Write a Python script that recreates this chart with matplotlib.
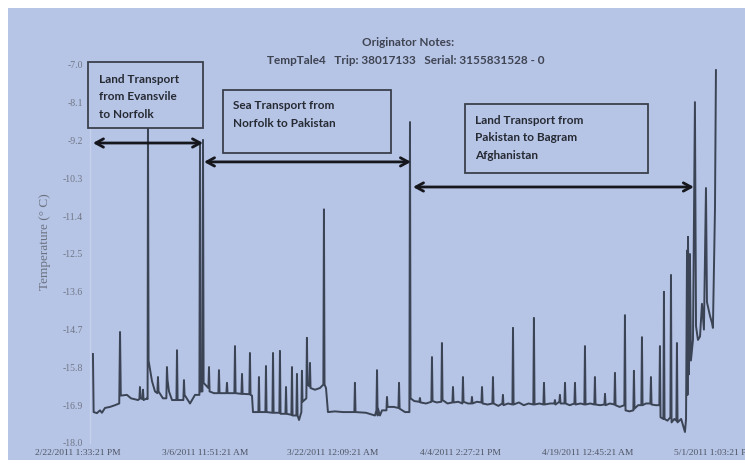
import matplotlib
matplotlib.use("Agg")
import matplotlib.pyplot as plt
from matplotlib.patches import Rectangle

# ---------------- data ----------------
# x: days after the first axis label time, y: temperature (deg C)
days = [
    1.53, 1.60, 1.94, 2.25, 2.45, 2.76, 3.27, 3.78, 4.22, 4.30, 4.38, 5.01, 5.42, 6.14,
    6.28, 6.34, 6.40, 6.59, 6.65, 6.71, 7.06, 7.12, 7.16, 7.22, 7.57, 7.88, 8.12, 8.18,
    8.24, 8.69, 9.04, 9.10, 9.16, 9.31, 9.62, 10.07, 10.13, 10.19, 10.78, 10.84, 10.90,
    11.46, 11.97, 12.42, 12.48, 12.54, 12.73, 12.79, 12.85,
    13.34, 13.40, 13.46, 13.91, 14.36, 14.42, 14.48, 15.18, 15.24, 15.30, 16.00, 16.06,
    16.12, 16.72, 16.78, 16.84, 17.53, 17.59, 17.65, 17.80, 17.90, 18.45, 18.51, 18.57,
    19.17, 19.23, 19.29, 19.89, 19.95, 20.01, 20.60, 20.66, 20.72, 21.22, 21.28, 21.34,
    21.83, 21.89, 21.95, 22.34, 22.40, 22.46, 22.61, 22.85, 22.91, 22.97, 23.36, 23.42,
    23.48, 23.67, 23.73, 23.79, 24.24, 24.75, 25.10, 25.16, 25.22, 25.37, 25.57,
    26.29, 27.11, 28.27, 28.33, 28.39, 29.46, 30.38, 30.53, 30.59, 30.65, 30.69, 30.89,
    31.10, 31.55, 31.61, 31.67, 32.30, 32.78, 32.84, 32.90, 33.45, 33.90, 33.96, 34.02,
    34.40, 34.92, 34.98, 35.04, 35.60, 36.15, 36.21, 36.27, 36.70, 37.17, 37.23, 37.29,
    37.80, 38.30, 38.36, 38.42, 38.90, 39.32, 39.38, 39.44, 39.90, 40.24, 40.30, 40.36,
    40.80, 41.27, 41.33, 41.39, 41.90, 42.39, 42.45, 42.51, 43.00, 43.41, 43.47, 43.53,
    44.00, 44.44, 44.50, 44.56, 45.10, 45.60, 46.10, 46.58, 46.64, 46.70, 47.20, 47.61,
    47.67, 47.73, 48.30, 48.73, 48.79, 48.85, 49.24, 49.30, 49.36, 49.76, 49.82, 49.88,
    50.30, 50.78, 50.84, 50.90, 51.40, 51.80, 51.86, 51.92, 52.40, 52.82, 52.88, 52.94,
    53.40, 53.85, 53.91, 53.97, 54.40, 54.87, 54.93, 54.99, 55.40, 55.89, 55.95, 56.01,
    56.40, 56.81, 56.87, 56.93, 57.30, 57.63, 57.69, 57.75, 58.10, 58.55, 58.61, 58.67,
    59.10, 59.47, 59.53, 59.59, 59.88, 59.94, 60.00, 60.30, 60.60, 60.66, 60.72, 61.00,
    61.21, 61.27, 61.33, 61.70, 62.09, 62.20,
    62.30, 62.35, 62.40, 62.50, 62.60, 62.70, 62.91, 63.11, 63.22, 63.42, 63.63, 63.83,
    64.03, 64.24, 64.34, 64.65, 64.85, 64.95, 65.16, 65.26,
]
temps = [
    -15.41, -17.10, -17.13, -17.05, -17.12, -16.98, -16.95, -16.90, -16.85, -14.77, -16.62, -16.60, -16.70, -16.75,
    -16.72, -16.37, -16.70, -16.72, -16.45, -16.75, -16.70, -16.72, -8.50, -15.60, -16.20, -16.50, -16.55, -16.08,
    -16.50, -16.70, -16.70, -15.79, -16.17, -16.50, -16.75, -16.75, -15.30, -16.75, -16.75, -16.17, -16.60,
    -16.85, -16.60, -16.60, -9.30, -16.50, -16.50, -9.18, -16.25,
    -16.40, -15.79, -16.50, -16.55, -16.55, -15.88, -16.55, -16.55, -16.25, -16.55, -16.55, -15.18,
    -16.55, -16.57, -15.99, -16.57, -16.58, -15.38, -16.60, -16.62, -17.10, -17.10, -16.08, -17.10,
    -17.10, -15.76, -17.10, -17.12, -15.38, -17.12, -17.12, -15.32, -17.15, -17.15, -16.37, -17.15,
    -17.18, -15.79, -17.20, -17.20, -15.99, -17.20, -17.33, -17.10, -15.90, -16.80, -16.70, -14.94,
    -16.30, -16.35, -15.67, -16.40, -16.45, -16.40, -16.30, -11.20, -16.30, -16.40, -17.10,
    -17.08, -17.10, -17.10, -16.25, -17.10, -17.12, -17.20, -17.05, -15.88, -17.20, -17.00, -17.20,
    -17.05, -17.05, -16.66, -16.95, -16.95, -16.98, -16.25, -17.00, -17.10, -17.10, -8.66, -16.70,
    -16.78, -16.80, -16.69, -16.82, -16.85, -16.80, -15.50, -16.78, -16.82, -16.80, -15.09, -16.75,
    -16.85, -16.82, -16.37, -16.82, -16.80, -16.85, -16.08, -16.80, -16.85, -16.85, -16.66, -16.85,
    -16.80, -16.82, -16.37, -16.85, -16.88, -16.85, -16.08, -16.85, -16.92, -16.85, -16.60, -16.90,
    -16.85, -16.88, -14.65, -16.88, -16.82, -16.90, -16.85, -16.88, -14.36, -16.88, -16.85, -16.88,
    -16.25, -16.88, -16.85, -16.85, -16.75, -16.88, -16.80, -16.60, -16.85, -16.85, -16.25, -16.85,
    -16.90, -16.85, -16.25, -16.88, -16.85, -16.88, -15.18, -16.88, -16.85, -16.88, -16.08, -16.88,
    -16.90, -16.88, -16.57, -16.90, -16.85, -16.88, -15.96, -16.90, -16.95, -16.90, -14.28, -17.05,
    -17.08, -17.05, -15.90, -17.00, -16.90, -16.90, -14.92, -16.90, -16.85, -16.85, -16.08, -16.88,
    -16.90, -16.90, -15.18, -17.25, -17.30, -13.60, -17.30, -17.35, -17.25, -13.11, -17.40, -17.30,
    -17.35, -15.09, -17.40, -17.30, -17.68, -17.30,
    -12.40, -16.60, -12.00, -16.00, -12.50, -15.60, -15.00, -8.08, -14.60, -15.00, -14.90, -13.95,
    -14.70, -10.58, -13.90, -14.30, -14.50, -14.65, -11.20, -7.15,
]

y_ticks = [-18.0, -16.9, -15.8, -14.7, -13.6, -12.5, -11.4, -10.3, -9.2, -8.1, -7.0]
y_tick_labels = ["-18.0", "-16.9", "-15.8", "-14.7", "-13.6", "-12.5", "-11.4",
                 "-10.3", "-9.2", "-8.1", "-7.0"]
x_ticks = [0.0, 13.03, 26.06, 39.09, 52.12, 65.15]
x_tick_labels = ["2/22/2011 1:33:21 PM", "3/6/2011 11:51:21 AM", "3/22/2011 12:09:21 AM",
                 "4/4/2011 2:27:21 PM", "4/19/2011 12:45:21 AM", "5/1/2011 1:03:21 PM"]

title_1 = "Originator Notes:"
title_2 = "TempTale4   Trip: 38017133   Serial: 3155831528 - 0"
y_label = "Temperature (° C)"

box_texts = ["Land Transport\nfrom Evansvile\nto Norfolk",
             "Sea Transport from\nNorfolk to Pakistan",
             "Land Transport from\nPakistan to Bagram\nAfghanistan"]

# ---------------- styling ----------------
BG = "#b6c4e6"
LINE = "#3b4454"
W, H = 745, 465

fig = plt.figure(figsize=(W / 100, H / 100), dpi=100, facecolor="white")
fig.patches.append(Rectangle((8 / W, 5 / H), 1 - 8 / W, 1 - 13 / H,
                             transform=fig.transFigure, facecolor=BG,
                             edgecolor="none", zorder=-10))

ax_left, ax_right = 60, 740
ax_top, ax_bottom = 65, 443
ax = fig.add_axes([ax_left / W, (H - ax_bottom) / H,
                   (ax_right - ax_left) / W, (ax_bottom - ax_top) / H])
ax.set_facecolor("none")

for s in ["top", "right", "bottom"]:
    ax.spines[s].set_visible(False)
ax.spines["left"].set_position(("data", 1.23))
ax.spines["left"].set_color("#c6d1ec")
ax.spines["left"].set_linewidth(1.0)

ax.plot(days, temps, color=LINE, lw=1.4, zorder=3)

ax.set_xlim(-1.84, 67.72)
ax.set_ylim(-18.0, -7.0)

ax.set_yticks(y_ticks)
ax.set_yticklabels(y_tick_labels)
ax.set_xticks(x_ticks)
ax.set_xticklabels(x_tick_labels)
ax.tick_params(axis="both", length=0)
ax.tick_params(axis="y", pad=5, labelsize=7, labelcolor="#707684")
ax.tick_params(axis="x", pad=4, labelsize=6.8, labelcolor="#4e5462")
for lab in ax.get_xticklabels() + ax.get_yticklabels():
    lab.set_family("Liberation Serif")

fig.text(45 / W, 1 - 242 / H, y_label, rotation=90, ha="center", va="center",
         family="Liberation Serif", fontsize=9.5, color="#6c7280")

fig.text(408 / W, 1 - 42 / H, title_1, ha="center", va="center",
         family="Lato", fontweight="bold", fontsize=8.5, color="#3e4452")
fig.text(406 / W, 1 - 61 / H, title_2, ha="center", va="center",
         family="Lato", fontweight="bold", fontsize=8.5, color="#3e4452")

# annotation boxes (data coordinates)
boxes = [(1.02, 12.79, -6.91, -8.83), (14.83, 32.02, -7.73, -9.56), (39.59, 58.31, -8.13, -10.14)]
text_pos = [(2.2, -7.93), (15.85, -8.43), (40.61, -9.12)]
for (x0, x1, y0, y1), (tx, ty), txt in zip(boxes, text_pos, box_texts):
    ax.add_patch(Rectangle((x0, y1), x1 - x0, y0 - y1, facecolor=BG, edgecolor="#3b404c",
                           lw=1.3, zorder=5, clip_on=False))
    ax.text(tx, ty, txt, ha="left", va="center", family="Lato", fontweight="bold",
            fontsize=8.5, color="#262a33", linespacing=1.75, zorder=6)

arrows = [(1.53, 12.79, -9.27), (12.89, 34.06, -9.82), (34.27, 63.0, -10.55)]
for x0, x1, y in arrows:
    ax.annotate("", xy=(x1, y), xytext=(x0, y),
                arrowprops=dict(arrowstyle="<->,head_length=0.55,head_width=0.3",
                                lw=2.0, color="#15171c", shrinkA=0, shrinkB=0),
                zorder=7)

fig.savefig("out.png", dpi=100, facecolor=fig.get_facecolor())
